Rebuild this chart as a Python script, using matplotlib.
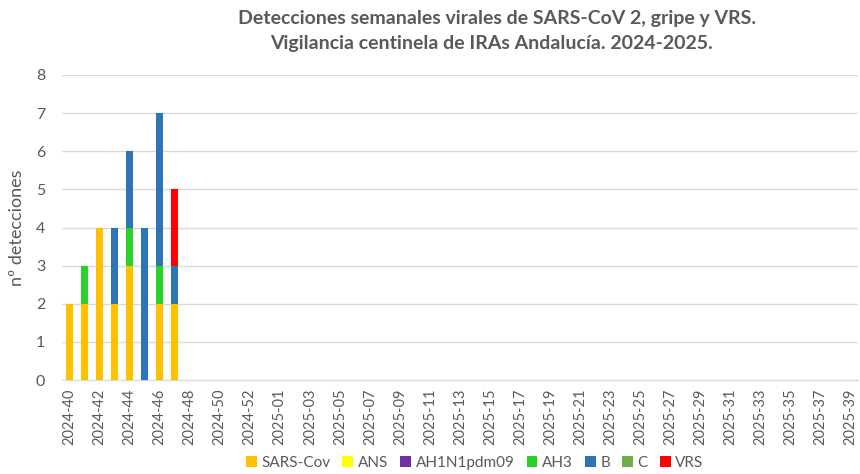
import numpy as np
import matplotlib.pyplot as plt

plt.rcParams['font.family'] = ['Lato', 'DejaVu Sans']

# semanas 2024-40 .. 2024-53, 2025-01 .. 2025-39
semanas = [f"2024-{w:02d}" for w in range(40, 54)] + [f"2025-{w:02d}" for w in range(1, 40)]
n = len(semanas)

def serie(valores):
    s = np.zeros(n)
    s[:len(valores)] = valores
    return s

sars = serie([2, 2, 4, 2, 3, 0, 2, 2])
ans = serie([0, 0, 0, 0, 0, 0, 0, 0])
ah1n1 = serie([0, 0, 0, 0, 0, 0, 0, 0])
ah3 = serie([0, 1, 0, 0, 1, 0, 1, 0])
b = serie([0, 0, 0, 2, 2, 4, 4, 1])
c = serie([0, 0, 0, 0, 0, 0, 0, 0])
vrs = serie([0, 0, 0, 0, 0, 0, 0, 2])

series = [sars, ans, ah1n1, ah3, b, c, vrs]
nombres = ["SARS-Cov", "ANS", "AH1N1pdm09", "AH3", "B", "C", "VRS"]
colores = ["#FFC000", "#FFFF00", "#7030A0", "#28D228", "#2E75B6", "#70AD47", "#FF0000"]

gris = "#595959"

fig = plt.figure(figsize=(8.6, 4.74), dpi=100)
ax = fig.add_axes([0.072, 0.198, 0.926, 0.644])

x = np.arange(n)
base = np.zeros(n)
for s, nom, col in zip(series, nombres, colores):
    ax.bar(x, s, bottom=base, width=0.5, color=col, label=nom, zorder=3)
    base += s

ax.set_xlim(-0.5, n - 0.5)
ax.set_ylim(0, 8)
ax.set_yticks(range(0, 9))
ax.grid(axis="y", color="#D9D9D9", linewidth=1, zorder=0)
ax.set_xticks(x[::2])
ax.set_xticklabels(semanas[::2], rotation=90, fontsize=10.5, color=gris)
ax.tick_params(axis="x", length=0, pad=6)
ax.tick_params(axis="y", length=0, labelsize=11.5, labelcolor=gris, pad=12)
for lado in ["top", "right", "left"]:
    ax.spines[lado].set_visible(False)
ax.spines["bottom"].set_color("#D9D9D9")
ax.set_ylabel("nº detecciones", fontsize=13, color=gris, labelpad=8)

fig.text(0.578, 0.962, "Detecciones semanales virales de SARS-CoV 2, gripe y VRS.",
         ha="center", va="center", fontsize=14, fontweight="bold", color=gris)
fig.text(0.572, 0.908, "Vigilancia centinela de IRAs Andalucía. 2024-2025.",
         ha="center", va="center", fontsize=14, fontweight="bold", color=gris)

fig.legend(loc="center", bbox_to_anchor=(0.552, 0.023), ncol=7, frameon=False,
           fontsize=11, labelcolor=gris, handlelength=0.7, handleheight=0.7,
           handletextpad=0.3, columnspacing=0.8)

plt.savefig("out.png", dpi=100)
